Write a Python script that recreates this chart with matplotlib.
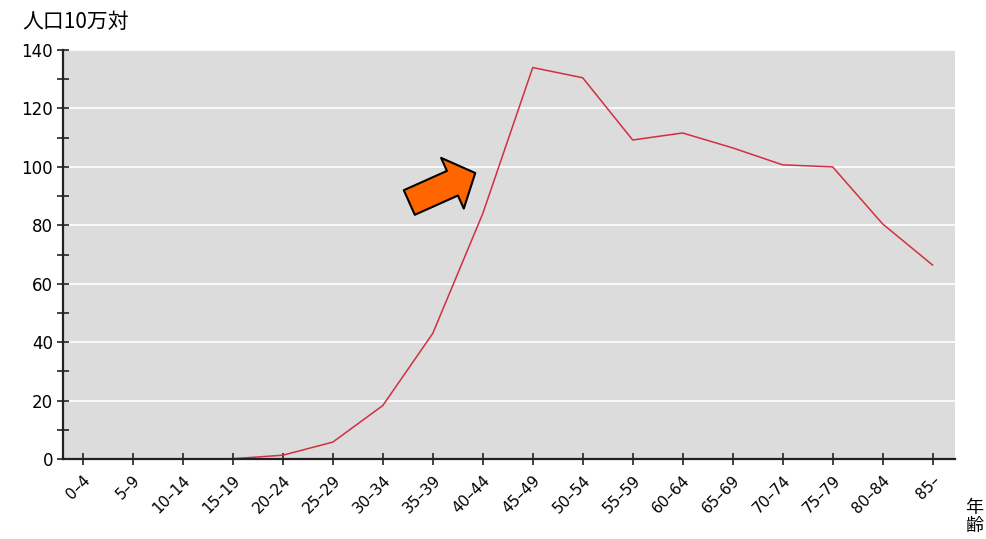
import numpy as np
import matplotlib.pyplot as plt
from matplotlib.ticker import MultipleLocator

plt.rcParams['font.family'] = ['Noto Sans CJK JP', 'DejaVu Sans']

# -----------------------------
# Data
# -----------------------------
age_groups = ["0–4", "5–9", "10–14", "15–19", "20–24", "25–29", "30–34",
              "35–39", "40–44", "45–49", "50–54", "55–59", "60–64", "65–69",
              "70–74", "75–79", "80–84", "85–"]
rate = [0.0, 0.0, 0.0, 0.1, 1.3, 5.8, 18.3, 43.0, 84.0, 134.0, 130.5,
        109.2, 111.6, 106.5, 100.7, 100.0, 80.5, 66.4]

OUT_FILE = "out.png"


def main():
    fig = plt.figure(figsize=(9.87, 5.39), dpi=100)
    ax = fig.add_axes([0.0638, 0.1484, 0.9038, 0.7588])
    ax.set_facecolor("#dcdcdc")

    x = np.arange(len(age_groups))
    ax.plot(x, rate, color="#d03040", lw=1.1)

    ax.set_xlim(-0.4, len(age_groups) - 0.55)
    ax.set_ylim(0, 140)
    ax.yaxis.set_major_locator(MultipleLocator(20))
    ax.yaxis.set_minor_locator(MultipleLocator(10))
    ax.set_xticks(x)
    ax.set_xticklabels(age_groups, rotation=45, ha="right", va="top",
                       rotation_mode="anchor", fontsize=11, family="DejaVu Sans")
    for lab in ax.get_yticklabels():
        lab.set_family("DejaVu Sans")
    ax.tick_params(axis="y", labelsize=12, pad=3)
    ax.tick_params(axis="x", pad=6)
    ax.tick_params(which="both", direction="inout", length=8, width=1.2,
                   color="#222222")
    ax.grid(axis="y", which="major", color="white", lw=1.2)
    ax.set_axisbelow(True)

    for s in ("top", "right"):
        ax.spines[s].set_visible(False)
    for s in ("left", "bottom"):
        ax.spines[s].set_linewidth(1.6)
        ax.spines[s].set_color("#222222")

    # orange arrow pointing to the 40-49 rise
    ax.annotate("", xy=(7.85, 97.9), xytext=(6.53, 87.8),
                arrowprops=dict(arrowstyle="simple,head_length=0.9,head_width=2.0,tail_width=0.97",
                                fc="#ff6600", ec="black", lw=1.5,
                                shrinkA=0, shrinkB=0, mutation_scale=20))

    fig.text(22 / 987, 1 - 22 / 539, "人口10万対", fontsize=15, va="center", ha="left")
    fig.text(965 / 987, 1 - 517 / 539, "年\n齢", fontsize=13, va="center", ha="left",
             linespacing=1.0)

    fig.savefig(OUT_FILE, dpi=100)
    plt.close(fig)


if __name__ == "__main__":
    main()
